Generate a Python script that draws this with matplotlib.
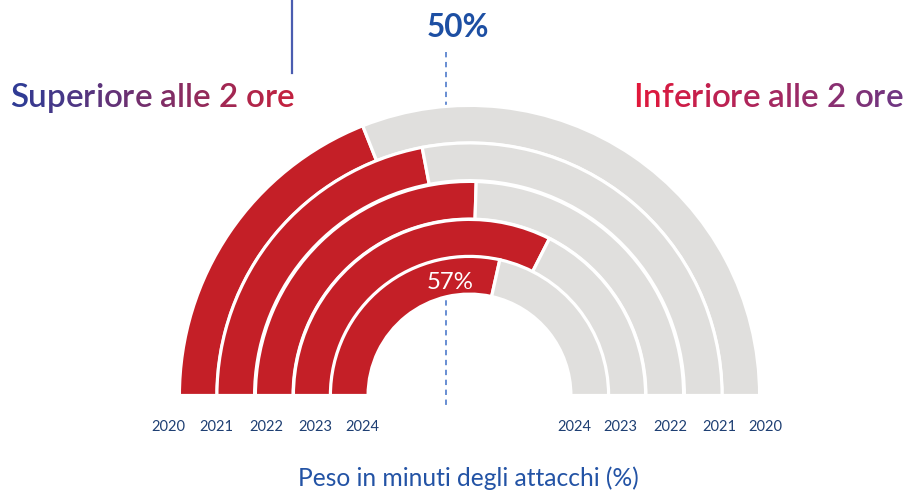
import numpy as np
import matplotlib
matplotlib.use('Agg')
import matplotlib.pyplot as plt
from matplotlib.patches import Wedge
from matplotlib.colors import to_rgb

# data: share of attack minutes above 2 hours, per year (outer ring = 2020)
years = ['2020', '2021', '2022', '2023', '2024']
above_2h = [38, 44, 51, 65, 57]
shown_label = '2024'

title_left = 'Superiore alle 2 ore'
title_right = 'Inferiore alle 2 ore'
ref_label = '50%'
x_title = 'Peso in minuti degli attacchi (%)'

# layout (pixel coordinates, y downwards)
W, H = 904, 492
cx, cy = 469.5, 395.5
outer_r = [288.5, 251.0, 212.5, 174.5, 137.5]
ring_w = 34.5
gap = 3.2
left_lab_x = [168, 216, 266, 315.5, 362.5]
right_lab_x = [765, 719.5, 670.5, 620.5, 574]

RED = '#C41F27'
GREY = '#E0DFDD'
NAVY = '#1E3F73'
BLUE = '#2353A5'
FONT = 'Lato'

fig = plt.figure(figsize=(W / 100, H / 100), dpi=100)
ax = fig.add_axes([0, 0, 1, 1])
ax.set_xlim(0, W)
ax.set_ylim(H, 0)
ax.axis('off')
renderer = fig.canvas.get_renderer()


def text_width(s, size, **kw):
    t = ax.text(0, 0, s, fontsize=size, family=FONT, **kw)
    w = t.get_window_extent(renderer).width
    t.remove()
    return w


def fit_size(s, target, **kw):
    return 20 * target / text_width(s, 20, **kw)


def gradient_text(x0, y, s, size, c0, c1, ha='left', **kw):
    c0, c1 = np.array(to_rgb(c0)), np.array(to_rgb(c1))
    total = text_width(s, size, **kw)
    if ha == 'right':
        x0 = x0 - total
    for i, ch in enumerate(s):
        if ch == ' ':
            continue
        cw = text_width(ch, size, **kw)
        left = text_width(s[:i + 1], size, **kw) - cw
        f = (left + cw / 2) / total
        col = c0 * (1 - f) + c1 * f
        ax.text(x0 + left, y, ch, fontsize=size, family=FONT, color=col,
                ha='left', va='baseline', **kw)


# reference line at 50% (behind the rings)
ax.plot([446, 446], [52, 405], color='#3F6FC6', lw=1.1,
        ls=(0, (3.5, 3)), zorder=0)
# connector line at the top
ax.plot([292, 292], [0, 73], color='#4A5DB0', lw=1.6, zorder=0)

# rings: red share from the left, grey for the rest
for i, (yr, v) in enumerate(zip(years, above_2h)):
    r = outer_r[i] + gap / 2
    w = ring_w + gap
    t_end = 180 + 180 * v / 100
    ax.add_patch(Wedge((cx, cy), r, 180, t_end, width=w, facecolor=RED,
                       edgecolor='white', lw=gap * 0.72, zorder=2))
    ax.add_patch(Wedge((cx, cy), r, t_end, 360, width=w, facecolor=GREY,
                       edgecolor='white', lw=gap * 0.72, zorder=2))

    ax.text(left_lab_x[i], 427, yr, fontsize=10.5, family=FONT, color=NAVY,
            ha='center', va='center')
    ax.text(right_lab_x[i], 427, yr, fontsize=10.5, family=FONT, color=NAVY,
            ha='center', va='center')

    if yr == shown_label:
        ang = np.deg2rad(t_end - 22.5)
        rr = outer_r[i] - ring_w / 2 - 6
        s = f'{v}%'
        ax.text(cx + rr * np.cos(ang), cy + rr * np.sin(ang), s,
                fontsize=fit_size(s, 47), family=FONT, color='white',
                ha='center', va='center', zorder=3)

# titles with colour gradients
ts = fit_size(title_left, 285, weight='semibold')
gradient_text(10, 106.7, title_left, ts, '#2B3C97', '#C6213D',
              weight='semibold')
gradient_text(903, 106.7, title_right, ts, '#E3173A', '#6C3783',
              ha='right', weight='semibold')

ax.text(457.5, 37, ref_label, fontsize=fit_size(ref_label, 63, weight='bold'),
        family=FONT, weight='bold', color='#1D4FA3', ha='center',
        va='baseline')

ax.text(468.5, 478, x_title, fontsize=fit_size(x_title, 343), family=FONT,
        color=BLUE, ha='center', va='center')

fig.savefig('out.png', dpi=100)
